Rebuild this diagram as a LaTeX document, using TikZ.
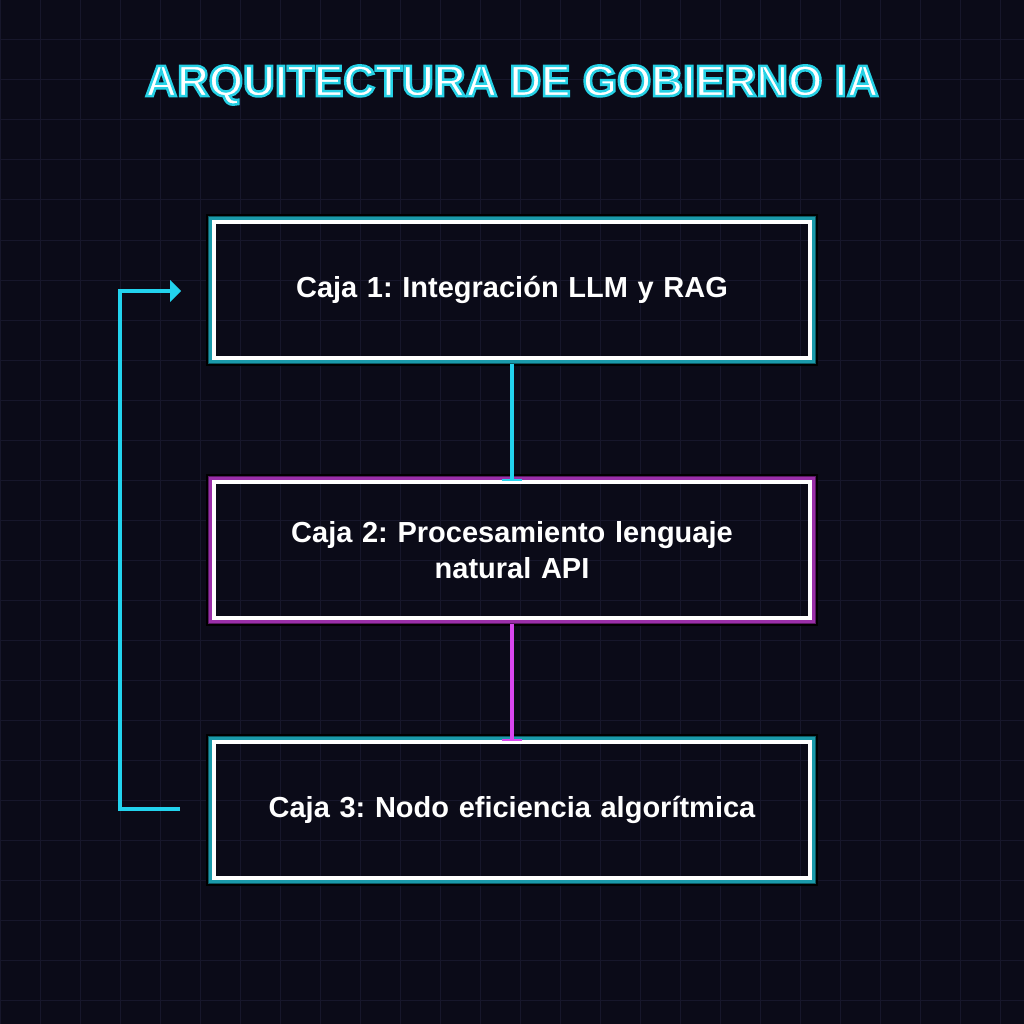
\documentclass[tikz,border=0pt]{standalone}
\usepackage{fontspec}
\setmainfont{Liberation Sans}
\frenchspacing
\definecolor{bg}{HTML}{0B0B18}
\definecolor{gridc}{HTML}{17172B}
\definecolor{cyanc}{HTML}{22D3EE}
\definecolor{tealc}{HTML}{1A9AAA}
\definecolor{tealdk}{HTML}{0E5A64}
\definecolor{magc}{HTML}{D946EF}
\definecolor{magm}{HTML}{9A2FA8}
\definecolor{magdk}{HTML}{5A1A64}
\begin{document}
\begin{tikzpicture}[x=1pt,y=-1pt,
  lbl/.style={text=white,font=\bfseries\fontsize{29}{36}\selectfont,align=center,text width=580pt}]
\fill[bg] (0,0) rectangle (1024,1024);
\useasboundingbox (0,0) rectangle (1024,1024);
\foreach \i in {0,40,...,1000}{
  \draw[gridc,line width=1pt] (\i,0) -- (\i,1024);
  \draw[gridc,line width=1pt] (0,\i) -- (1024,\i);}
% title
\node (t) at (512,85) {\bfseries\fontsize{44}{50}\selectfont\special{pdf:literal 2 Tr 1 1 1 rg 0.15 0.82 0.9 RG 2.5 w}ARQUITECTURA DE GOBIERNO IA\special{pdf:literal 0 Tr}};
% boxes
\foreach \n/\y/\cA/\cB/\cC in {b1/290/tealdk/tealc/cyanc, b2/550/magdk/magm/magc, b3/810/tealdk/tealc/cyanc}{
  \draw[black,line width=2pt] (207,\y-75) rectangle (817,\y+75);
  \draw[\cA,line width=4pt] (210,\y-72) rectangle (814,\y+72);
  \draw[\cB,line width=2.5pt] (210.5,\y-71.5) rectangle (813.5,\y+71.5);
  \draw[white,line width=4pt] (214,\y-68) rectangle (810,\y+68);
  \node (\n) at (512,\y) [minimum width=608pt,minimum height=148pt] {};
}
\node[lbl] at (b1) {Caja 1: Integración LLM y RAG};
\node[lbl] at (b2) {Caja 2: Procesamiento lenguaje\\natural API};
\node[lbl] at (b3) {Caja 3: Nodo eficiencia algorítmica};
% connectors
\draw[cyanc,line width=3.5pt] (b1.south) -- ([yshift=-4pt]b2.north);
\draw[cyanc,line width=2.5pt] ([xshift=-10pt,yshift=-4pt]b2.north) -- ([xshift=10pt,yshift=-4pt]b2.north);
\draw[magc,line width=3.5pt] (b2.south) -- ([yshift=-4pt]b3.north);
\draw[magc,line width=2.5pt] ([xshift=-10pt,yshift=-4pt]b3.north) -- ([xshift=10pt,yshift=-4pt]b3.north);
\coordinate (l1) at (180,809);
\coordinate (l2) at (120,809);
\coordinate (l3) at (120,291);
\coordinate (l4) at (171,291);
\draw[cyanc,line width=3.5pt] (l1) -- (l2) -- (l3) -- (l4);
\fill[cyanc] (170,280) -- (181,291) -- (170,302) -- cycle;
\end{tikzpicture}
\end{document}
